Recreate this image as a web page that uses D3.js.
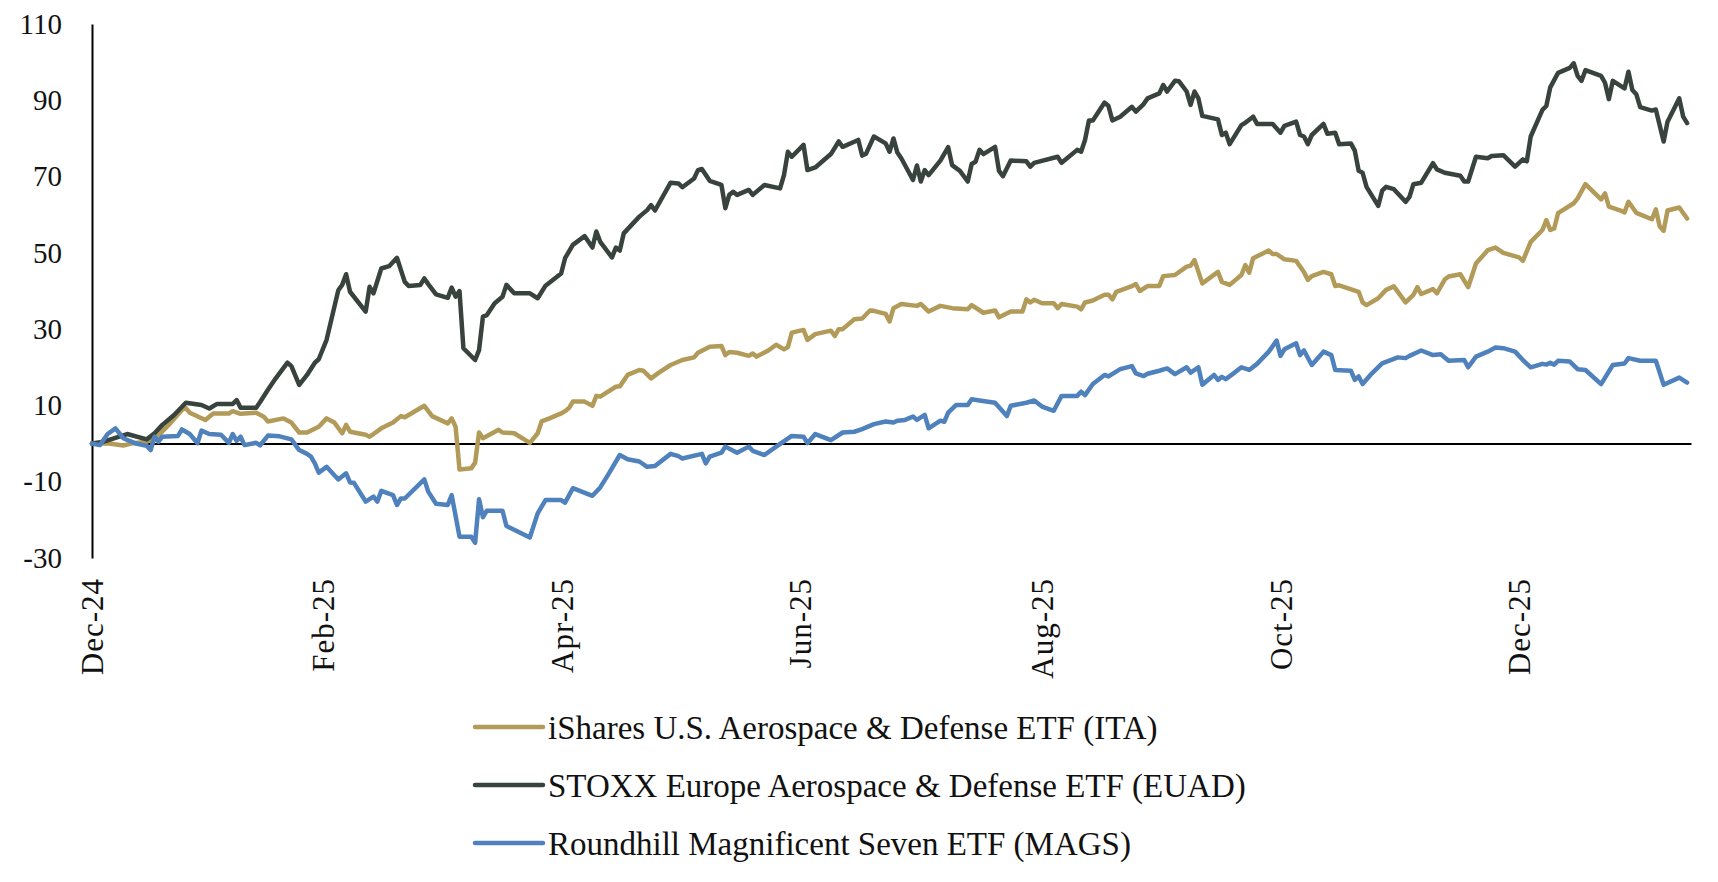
<!DOCTYPE html>
<html>
<head>
<meta charset="utf-8">
<script src="https://cdnjs.cloudflare.com/ajax/libs/d3/7.8.5/d3.min.js"></script>
<style>
  body { margin: 0; background: #fff; }
  svg { display: block; }
  text { font-family: "Liberation Serif", "Times New Roman", serif; fill: #111; }
</style>
</head>
<body>
<div id="chart"></div>
<script>
// cumulative return (%) since 31 Dec 2024; x values are calendar days after startDate
const startDate = "2024-12-31";
const endDate = "2026-02-13";
const xTickDates = ["2024-12-31", "2025-02-28", "2025-04-30", "2025-06-30", "2025-08-31", "2025-10-31", "2025-12-31"];
const yTickValues = [-30, -10, 10, 30, 50, 70, 90, 110];

const seriesNames = [
    "iShares U.S. Aerospace & Defense ETF (ITA)",
    "STOXX Europe Aerospace & Defense ETF (EUAD)",
    "Roundhill Magnificent Seven ETF (MAGS)"
];
const seriesColors = ["#b29b58", "#38433d", "#4f81bd"];

const itaDays = [0, 4, 8, 10, 14, 16, 20, 23, 24, 25, 29, 31, 35, 36, 38, 42, 44, 45, 49, 51, 53, 55, 58, 60, 62, 64, 65, 66, 70, 71, 72, 74, 77, 79, 80, 85, 87, 91, 92, 93, 94, 97, 98, 99, 100, 104, 105, 108, 112, 114, 115, 117, 120, 121, 122, 123, 126, 128, 129, 130, 132, 134, 135, 137, 140, 141, 143, 145, 148, 151, 154, 155, 158, 161, 162, 163, 165, 168, 169, 170, 173, 175, 177, 178, 179, 182, 183, 185, 189, 190, 191, 192, 195, 197, 199, 200, 203, 204, 205, 207, 211, 212, 214, 217, 220, 224, 225, 228, 231, 232, 235, 238, 239, 240, 241, 243, 246, 247, 248, 252, 253, 254, 256, 259, 260, 261, 262, 266, 267, 268, 270, 273, 274, 277, 280, 281, 282, 284, 288, 289, 291, 294, 295, 296, 297, 301, 302, 303, 305, 308, 310, 311, 312, 315, 317, 318, 319, 324, 325, 326, 329, 331, 333, 336, 338, 339, 340, 343, 344, 346, 347, 348, 350, 352, 354, 357, 359, 361, 365, 366, 368, 371, 372, 373, 374, 375, 379, 380, 382, 386, 387, 388, 391, 392, 393, 395, 399, 400, 401, 402, 403, 406, 408];
const itaValues = [0, 0.1, -0.5, 0, 0.5, 1.1, 5.3, 8.8, 9.3, 8.1, 6.2, 7.9, 7.9, 8.5, 7.8, 8.1, 7, 5.8, 6.6, 5.5, 2.9, 2.9, 4.4, 6.6, 5.5, 2.7, 4.9, 3.1, 2.3, 1.8, 2.5, 4, 5.5, 7.2, 6.9, 9.9, 7.2, 5.3, 6.6, 4.4, -6.8, -6.5, -5, 2.9, 1.4, 3.6, 2.9, 2.7, 0.2, 2.7, 5.8, 6.6, 7.9, 8.5, 9.3, 11, 11, 9.9, 12.5, 12.3, 13.6, 14.9, 15, 18, 19.3, 19.1, 17.1, 18.6, 20.6, 21.9, 22.6, 23.8, 25.4, 25.6, 23.2, 24, 23.8, 23, 23.6, 22.8, 24.4, 25.9, 24.7, 25.3, 29.1, 29.8, 27.2, 28.7, 29.6, 28.2, 30, 30, 32.6, 32.8, 34.9, 34.8, 34, 32, 35.5, 36.6, 36.1, 36.6, 34.6, 36.1, 35.5, 35.2, 36.3, 34.3, 34.9, 33.1, 34.6, 34.6, 37.8, 37, 37.7, 36.8, 36.8, 35.5, 36.6, 35.9, 35.2, 37, 37.5, 39, 39, 37.8, 39.8, 41.3, 41.8, 40, 41.3, 41.3, 43.9, 44.2, 46.4, 46.6, 48.1, 42, 45, 42.4, 41.6, 44.2, 46.8, 44.8, 48.6, 50.6, 49.7, 49.7, 48.3, 47.9, 45, 42.9, 43.9, 45, 44.4, 41.3, 41.5, 39.8, 37, 36.3, 38.1, 40.3, 41.2, 37, 39, 41, 39.2, 40.5, 39.4, 43, 43.8, 44, 44.4, 41, 47.2, 50.7, 51.4, 50, 48.8, 47.9, 52.9, 56, 58.6, 56, 56.4, 60.4, 63, 64.3, 68, 64, 65.6, 62.1, 61.1, 60.6, 63.4, 60.5, 58.8, 61.4, 56.9, 55.8, 61.1, 61.9, 59];

const euadDays = [0, 3, 9, 14, 16, 18, 21, 24, 28, 30, 32, 36, 37, 38, 42, 43, 45, 47, 50, 51, 53, 55, 57, 58, 60, 63, 64, 65, 66, 70, 71, 72, 74, 76, 78, 80, 81, 84, 85, 86, 88, 91, 92, 93, 94, 95, 98, 99, 100, 101, 103, 105, 106, 108, 112, 114, 116, 120, 121, 123, 126, 128, 129, 130, 133, 134, 135, 136, 140, 142, 143, 144, 148, 150, 151, 154, 155, 156, 158, 161, 162, 163, 164, 165, 168, 169, 172, 176, 177, 178, 179, 182, 183, 185, 189, 191, 192, 196, 197, 198, 200, 203, 204, 205, 206, 207, 210, 211, 212, 213, 214, 217, 219, 220, 222, 224, 225, 226, 227, 228, 231, 232, 233, 235, 239, 240, 241, 247, 248, 252, 253, 254, 255, 256, 259, 260, 261, 263, 266, 267, 269, 270, 273, 274, 275, 277, 278, 280, 281, 282, 283, 284, 288, 289, 290, 291, 294, 295, 297, 298, 302, 304, 305, 308, 309, 310, 311, 312, 315, 316, 318, 319, 322, 323, 324, 325, 326, 329, 330, 331, 333, 336, 337, 338, 340, 343, 344, 346, 350, 351, 352, 354, 357, 358, 361, 364, 366, 367, 368, 371, 372, 373, 375, 378, 379, 380, 381, 382, 386, 387, 388, 389, 392, 393, 394, 395, 396, 399, 400, 402, 403, 406, 407, 408];
const euadValues = [0, 0.5, 2.5, 1.1, 2.7, 4.9, 7.5, 10.7, 10.1, 9.2, 10.4, 10.4, 11.4, 9.4, 9.4, 10.9, 14.1, 17.1, 21.2, 20.3, 15.4, 18, 21.2, 22.1, 27.2, 40.2, 41.6, 44.4, 39.8, 34.6, 41.1, 39.4, 45.9, 46.5, 48.7, 42.4, 41.3, 41.6, 43.3, 41.8, 39.1, 38.2, 40.9, 38.5, 40, 25, 21.9, 24.5, 33.3, 33.7, 36.8, 38.5, 41.6, 39.4, 39.4, 38.1, 41.4, 44.6, 48.6, 52.1, 54.4, 51.4, 55.6, 52.9, 48.8, 51.4, 50.6, 55.1, 59.5, 61.2, 62.5, 61.1, 68.4, 68.2, 67.2, 69.5, 71.7, 72, 68.9, 67.8, 61.7, 65.2, 66, 65.2, 66.5, 65.2, 67.8, 66.9, 70.4, 76.5, 75.2, 78.3, 71.7, 72.4, 75.9, 79.2, 77.8, 79.6, 75.5, 76, 80.5, 78.7, 76.5, 80, 76.3, 74.8, 69.1, 72.9, 68.7, 71.7, 70.4, 74.2, 77.7, 73, 71.5, 68.7, 73.3, 73.9, 77, 75.9, 77.8, 71.5, 70.1, 74.2, 74, 72.6, 73.6, 75.2, 73.6, 77, 76.5, 79.6, 84.7, 84.7, 89.4, 88.5, 84.7, 85.7, 88.3, 87, 89, 90.5, 91.8, 94, 92.3, 95.1, 95, 92.3, 88.8, 92.3, 90.5, 85.9, 85, 80.9, 81.5, 78.5, 83.5, 84.1, 85.7, 83.8, 83.8, 81.5, 83.3, 84.4, 80.9, 80.5, 78.5, 80.9, 83.8, 81.2, 81.5, 78.5, 78.7, 76.8, 71.5, 71, 67.3, 62.3, 66.3, 67.3, 66.7, 63.4, 64.7, 68, 68.4, 73.5, 71.9, 71, 70.2, 68.7, 68.7, 75.2, 74.8, 75.4, 75.6, 72.6, 74.5, 74, 80.5, 87.5, 88.5, 93.4, 97.2, 98.5, 99.7, 96.4, 95.1, 97.9, 96.4, 94.6, 90.3, 95.1, 93.1, 97.5, 92.7, 91.6, 88.2, 87.3, 87.6, 79.2, 84.4, 90.5, 85.7, 84];

const magsDays = [0, 2, 4, 6, 8, 11, 14, 15, 16, 17, 18, 22, 23, 25, 27, 28, 30, 33, 35, 36, 37, 38, 39, 42, 43, 45, 48, 51, 53, 55, 56, 57, 58, 60, 63, 65, 66, 67, 70, 72, 73, 74, 77, 78, 79, 80, 85, 86, 88, 91, 92, 94, 97, 98, 99, 100, 101, 105, 106, 112, 114, 116, 120, 121, 123, 128, 130, 132, 135, 137, 140, 142, 144, 148, 150, 151, 156, 157, 158, 161, 162, 165, 168, 169, 172, 175, 179, 182, 183, 185, 189, 192, 195, 197, 200, 203, 205, 206, 208, 210, 211, 213, 214, 217, 218, 219, 221, 224, 225, 227, 231, 234, 235, 239, 241, 243, 246, 248, 252, 253, 254, 256, 259, 260, 263, 266, 267, 269, 270, 273, 275, 277, 280, 281, 283, 284, 287, 288, 289, 290, 292, 294, 296, 298, 301, 303, 304, 305, 308, 309, 310, 312, 315, 317, 318, 322, 323, 324, 325, 327, 330, 334, 336, 337, 340, 343, 345, 347, 351, 352, 354, 357, 359, 361, 364, 366, 368, 371, 372, 373, 374, 375, 378, 380, 382, 386, 389, 392, 393, 396, 400, 401, 402, 406, 408];
const magsValues = [0, -0.4, 2.5, 4, 1.4, 0.1, -0.6, -1.7, 1.8, 0.5, 1.8, 2, 3.7, 2.5, 0.1, 3.4, 2.5, 2.3, 0.2, 2.5, 0.7, 1.8, -0.4, 0.2, -0.5, 2.1, 1.9, 1.1, -1.7, -2.7, -3.4, -5.2, -7.6, -6.1, -9.4, -7.8, -10.2, -10.3, -15.2, -13.9, -15.2, -12.4, -13.5, -16.1, -14.4, -14.4, -9.4, -12.6, -15.8, -16.1, -13.5, -24.4, -24.4, -26, -14.6, -19.3, -17.6, -17.6, -21.6, -24.6, -18.3, -14.8, -14.8, -15.5, -11.7, -13.7, -11.5, -8.2, -3, -4.1, -4.7, -6.1, -5.9, -2.7, -3.3, -3.9, -2.7, -5.2, -3.4, -2.4, -0.8, -2.4, -0.8, -1.9, -3, -0.8, 2, 1.8, 0.1, 2.5, 0.9, 2.9, 3.1, 3.8, 5.1, 5.8, 5.5, 6, 6.2, 7.1, 6.2, 7.5, 4, 6, 5.7, 8.1, 10.1, 10.1, 11.6, 11.3, 10.7, 7.2, 9.9, 10.7, 11.3, 9.7, 8.6, 12.5, 12.5, 13.6, 12.7, 15.6, 18, 17.6, 19.5, 20.3, 18.4, 17.7, 18.3, 19.1, 19.7, 18.2, 20, 18.6, 20, 15.4, 18, 16.7, 17.5, 16.9, 18.4, 20, 19.3, 20.9, 24.1, 27, 23, 24.7, 26.3, 23.2, 24.4, 20.6, 24.1, 23.2, 19.3, 19.1, 16.7, 17.6, 15.6, 18, 21, 22.6, 22.4, 23, 24.4, 23.2, 23.4, 21.7, 21.9, 20, 22.8, 24.1, 25.2, 25, 24.1, 21.9, 20, 20.9, 20.7, 21.2, 20.7, 21.7, 21.5, 19.5, 19.3, 15.6, 20.6, 21, 22.4, 21.7, 21.7, 18.6, 15.4, 17.3, 16];

const width = 1718, height = 882;
const margin = { left: 92, right: 27, top: 24, bottom: 324 };

const parse = d3.utcParse("%Y-%m-%d");
const start = parse(startDate);

function toPoints(days, values) {
    return days.map((d, i) => ({ date: d3.utcDay.offset(start, d), value: values[i] }));
}
const series = [
    toPoints(itaDays, itaValues),
    toPoints(euadDays, euadValues),
    toPoints(magsDays, magsValues)
];

const svg = d3.select("#chart").append("svg")
    .attr("width", width)
    .attr("height", height);

const x = d3.scaleUtc()
    .domain([start, parse(endDate)])
    .range([margin.left, width - margin.right]);
const y = d3.scaleLinear()
    .domain([-30, 110])
    .range([height - margin.bottom, margin.top]);

// y axis (plain hyphen for negatives, like the source)
const yAxis = svg.append("g")
    .attr("transform", `translate(${margin.left},0)`)
    .call(d3.axisLeft(y)
        .tickValues(yTickValues)
        .tickFormat(d => String(d))
        .tickSize(0).tickSizeOuter(0).tickPadding(30));
yAxis.select(".domain").attr("stroke", "#000").attr("stroke-width", 2);
yAxis.selectAll("text")
    .style("font-family", '"Liberation Serif", serif')
    .style("font-size", "29px")
    .attr("fill", "#111");

// zero line
const zeroAxis = svg.append("g")
    .attr("transform", `translate(0,${y(0)})`)
    .call(d3.axisBottom(x).tickValues([]).tickSizeOuter(0));
zeroAxis.select(".domain").attr("stroke", "#000").attr("stroke-width", 2);

// date labels below the plot
const xAxis = svg.append("g")
    .attr("transform", `translate(0,${height - margin.bottom + 20})`)
    .call(d3.axisBottom(x)
        .tickValues(xTickDates.map(parse))
        .tickFormat(d3.utcFormat("%b-%y"))
        .tickSize(0));
xAxis.select(".domain").remove();
xAxis.selectAll("text")
    .attr("transform", "rotate(-90)")
    .attr("x", 0)
    .attr("y", 0)
    .attr("dy", "0.35em")
    .style("text-anchor", "end")
    .style("font-family", '"Liberation Serif", serif')
    .style("font-size", "31px")
    .style("letter-spacing", "1px")
    .attr("fill", "#111");

// series lines
const line = d3.line()
    .x(d => x(d.date))
    .y(d => y(d.value));

svg.append("g").selectAll("path")
    .data(series)
    .enter()
    .append("path")
    .attr("d", line)
    .attr("fill", "none")
    .attr("stroke", (d, i) => seriesColors[i])
    .attr("stroke-width", 4.5)
    .attr("stroke-linejoin", "round")
    .attr("stroke-linecap", "round");

// legend
const legend = svg.append("g")
    .selectAll("g")
    .data(seriesNames)
    .enter()
    .append("g")
    .attr("transform", (d, i) => `translate(475,${727 + i * 58})`);
legend.append("line")
    .attr("x1", 0)
    .attr("x2", 68)
    .attr("stroke", (d, i) => seriesColors[i])
    .attr("stroke-width", 4.5)
    .attr("stroke-linecap", "round");
legend.append("text")
    .attr("x", 73)
    .attr("dy", "0.35em")
    .style("font-size", "33px")
    .text(d => d);
</script>
</body>
</html>
